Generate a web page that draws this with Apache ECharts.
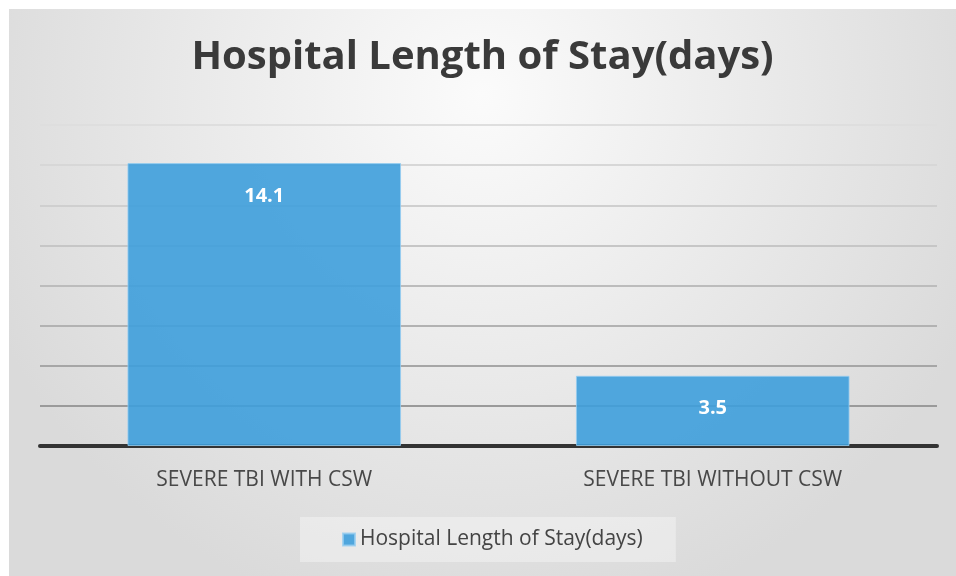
<!DOCTYPE html>
<html>
<head>
<meta charset="utf-8">
<script src="https://cdn.jsdelivr.net/npm/echarts@6/dist/echarts.min.js"></script>
<style>
  html, body { margin: 0; padding: 0; background: #fff; }
  #main { position: absolute; left: 9px; top: 9px; width: 947px; height: 567px; }
</style>
</head>
<body>
<div id="main"></div>
<script>
var categories = ['SEVERE TBI WITH CSW', 'SEVERE TBI WITHOUT CSW'];
var stayDays = [14.1, 3.5];
var seriesName = 'Hospital Length of Stay(days)';

var myChart = echarts.init(document.getElementById('main'));

// gridlines fade out toward the top, like the original
var gridColors = ['#888', '#9a9a9a', '#a6a6a6', '#b2b2b2', '#bcbcbc', '#c6c6c6', '#cfcfcf', '#d7d7d7', '#dedede'];

var option = {
    backgroundColor: {
        type: 'radial', x: 0.5, y: 0.15, r: 0.95,
        colorStops: [
            { offset: 0, color: '#fbfbfb' },
            { offset: 1, color: '#dadada' }
        ]
    },
    title: {
        text: 'Hospital Length of Stay(days)',
        left: 'center',
        top: 24,
        textStyle: {
            fontFamily: 'Open Sans',
            fontWeight: 'bold',
            fontSize: 40,
            color: '#3a3a3a'
        }
    },
    legend: {
        data: [seriesName],
        bottom: 14,
        left: 291,
        padding: [12, 33, 12, 42],
        backgroundColor: 'rgba(255,255,255,0.35)',
        itemWidth: 12,
        itemHeight: 12,
        itemGap: 6,
        icon: 'rect',
        textStyle: { fontFamily: 'Open Sans', fontSize: 21, color: '#444' }
    },
    grid: { left: 31, right: 19, top: 116, bottom: 130 },
    xAxis: {
        type: 'category',
        data: categories,
        axisTick: { show: false },
        axisLine: { lineStyle: { color: '#333', width: 4 } },
        axisLabel: {
            margin: 24,
            fontFamily: 'Open Sans',
            fontSize: 21,
            color: '#484848'
        }
    },
    yAxis: {
        type: 'value',
        min: 0,
        max: 16,
        interval: 2,
        axisLabel: { show: false },
        axisLine: { show: false },
        axisTick: { show: false },
        splitLine: { lineStyle: { color: gridColors, width: 2 } }
    },
    series: [{
        name: seriesName,
        type: 'bar',
        data: stayDays,
        barWidth: '61%',
        itemStyle: {
            color: 'rgba(62,159,220,0.9)',
            borderColor: 'rgba(150,205,240,0.8)',
            borderWidth: 1
        },
        label: {
            show: true,
            position: 'insideTop',
            distance: 23,
            fontFamily: 'Open Sans',
            fontWeight: 'bold',
            fontSize: 20,
            color: '#fff'
        }
    }]
};

myChart.setOption(option);
</script>
</body>
</html>
